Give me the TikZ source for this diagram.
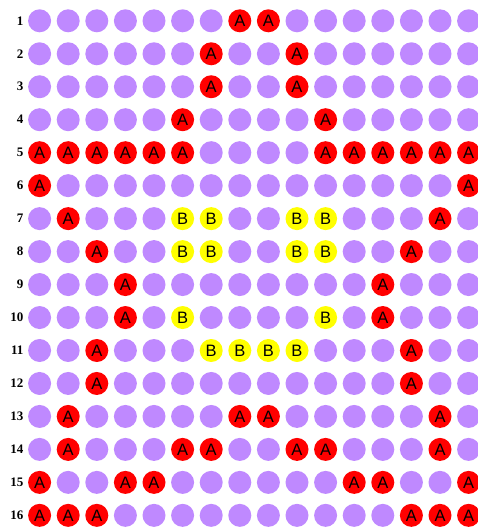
\documentclass[tikz,border=0pt]{standalone}
\usepackage{fontspec}
\setmainfont{Liberation Serif}
\newfontfamily\lettfont{Liberation Sans}
\definecolor{dotpurple}{RGB}{191,137,255}
\definecolor{dotred}{RGB}{255,0,0}
\definecolor{dotyellow}{RGB}{255,255,0}
\def\lblp{}
\def\lblA{A}
\def\lblB{B}
\tikzset{
  cellbase/.style={circle, inner sep=0pt, minimum size=23pt, text=black,
    font=\lettfont\fontsize{16.5}{16.5}\selectfont},
  cellp/.style={cellbase, fill=dotpurple},
  cellA/.style={cellbase, fill=dotred},
  cellB/.style={cellbase, fill=dotyellow},
  rowlabel/.style={anchor=east, inner sep=0pt, font=\bfseries\fontsize{13}{13}\selectfont}
}
\begin{document}
\begin{tikzpicture}[x=1pt,y=-1pt]
\useasboundingbox (0,0) rectangle (478,528);
\foreach \r/\row in {
 1/{p,p,p,p,p,p,p,A,A,p,p,p,p,p,p,p},
 2/{p,p,p,p,p,p,A,p,p,A,p,p,p,p,p,p},
 3/{p,p,p,p,p,p,A,p,p,A,p,p,p,p,p,p},
 4/{p,p,p,p,p,A,p,p,p,p,A,p,p,p,p,p},
 5/{A,A,A,A,A,A,p,p,p,p,A,A,A,A,A,A},
 6/{A,p,p,p,p,p,p,p,p,p,p,p,p,p,p,A},
 7/{p,A,p,p,p,B,B,p,p,B,B,p,p,p,A,p},
 8/{p,p,A,p,p,B,B,p,p,B,B,p,p,A,p,p},
 9/{p,p,p,A,p,p,p,p,p,p,p,p,A,p,p,p},
 10/{p,p,p,A,p,B,p,p,p,p,B,p,A,p,p,p},
 11/{p,p,A,p,p,p,B,B,B,B,p,p,p,A,p,p},
 12/{p,p,A,p,p,p,p,p,p,p,p,p,p,A,p,p},
 13/{p,A,p,p,p,p,p,A,A,p,p,p,p,p,A,p},
 14/{p,A,p,p,p,A,A,p,p,A,A,p,p,p,A,p},
 15/{A,p,p,A,A,p,p,p,p,p,p,A,A,p,p,A},
 16/{A,A,A,p,p,p,p,p,p,p,p,p,p,A,A,A}}
{
  \pgfmathsetmacro{\yy}{20.8+32.97*(\r-1)}
  \node[rowlabel] (lab-\r) at (23.5,\yy) {\r};
  \foreach \t [count=\c] in \row {
    \pgfmathsetmacro{\xx}{39.6+28.6*(\c-1)}
    \node[cell\t] (n-\r-\c) at (\xx,\yy) {\csname lbl\t\endcsname};
  }
}
\end{tikzpicture}
\end{document}
